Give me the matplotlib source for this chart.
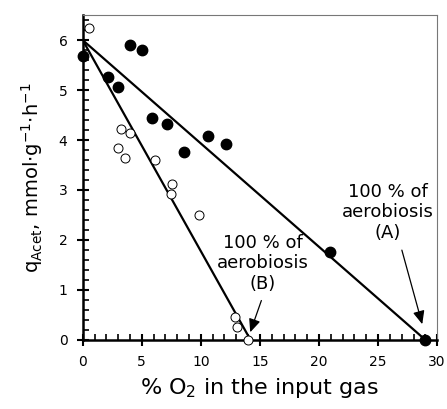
import numpy as np
import matplotlib
matplotlib.use("Agg")
import matplotlib.pyplot as plt
from matplotlib.ticker import MultipleLocator

# filled circles (series A)
o2_a = [0.0, 2.1, 3.0, 4.0, 5.0, 5.9, 7.1, 8.6, 10.6, 12.1, 20.9, 29.0]
q_a = [5.68, 5.27, 5.07, 5.91, 5.81, 4.44, 4.32, 3.76, 4.08, 3.93, 1.75, 0.0]

# open circles (series B)
o2_b = [0.55, 3.2, 4.0, 3.0, 3.6, 6.15, 7.6, 7.45, 9.85, 12.9, 13.05, 14.0]
q_b = [6.25, 4.22, 4.14, 3.85, 3.64, 3.6, 3.13, 2.92, 2.5, 0.46, 0.25, 0.0]

# fitted lines
line_a_x = [0.0, 29.0]
line_a_y = [6.0, 0.0]
line_b_x = [0.0, 14.2]
line_b_y = [6.0, 0.0]

plt.rcParams["font.family"] = ["DejaVu Sans"]

fig = plt.figure(figsize=(4.47, 4.09), dpi=100)
ax = fig.add_axes([0.185, 0.169, 0.793, 0.794])

ax.plot(line_a_x, line_a_y, color="black", lw=1.6, zorder=2)
ax.plot(line_b_x, line_b_y, color="black", lw=1.6, zorder=2)
ax.plot(o2_a, q_a, "o", color="black", ms=7.5, clip_on=False, zorder=3)
ax.plot(o2_b, q_b, "o", mfc="white", mec="black", mew=0.7, ms=6.5,
        clip_on=False, zorder=3)

arrow = dict(arrowstyle="-|>,head_width=0.35,head_length=0.8", color="black", lw=0.9)
ax.annotate("", xy=(28.8, 0.26), xytext=(26.95, 1.85), arrowprops=arrow)
ax.annotate("", xy=(14.1, 0.1), xytext=(15.2, 0.84), arrowprops=arrow)
ax.text(25.8, 2.55, "100 % of\naerobiosis\n(A)", ha="center", va="center",
        fontsize=13, linespacing=1.2)
ax.text(15.27, 1.53, "100 % of\naerobiosis\n(B)", ha="center", va="center",
        fontsize=13, linespacing=1.2)

ax.set_xlim(0, 30)
ax.set_ylim(0, 6.5)
ax.xaxis.set_major_locator(MultipleLocator(5))
ax.xaxis.set_minor_locator(MultipleLocator(1))
ax.yaxis.set_major_locator(MultipleLocator(1))
ax.yaxis.set_minor_locator(MultipleLocator(0.2))
ax.tick_params(which="major", direction="inout", length=8, width=1.5, labelsize=10, pad=7)
ax.tick_params(which="minor", direction="in", length=4, width=1.2)

for s in ["left", "bottom"]:
    ax.spines[s].set_linewidth(1.8)
for s in ["top", "right"]:
    ax.spines[s].set_linewidth(0.8)
    ax.spines[s].set_color("#777777")

ax.set_xlabel(r"% O$_2$ in the input gas", fontsize=16, labelpad=5)
ax.set_ylabel(r"q$_{\mathrm{Acet}}$, mmol$\cdot$g$^{\mathrm{-1}}$$\cdot$h$^{\mathrm{-1}}$",
              fontsize=14, labelpad=10)

fig.savefig("out.png", dpi=100)
